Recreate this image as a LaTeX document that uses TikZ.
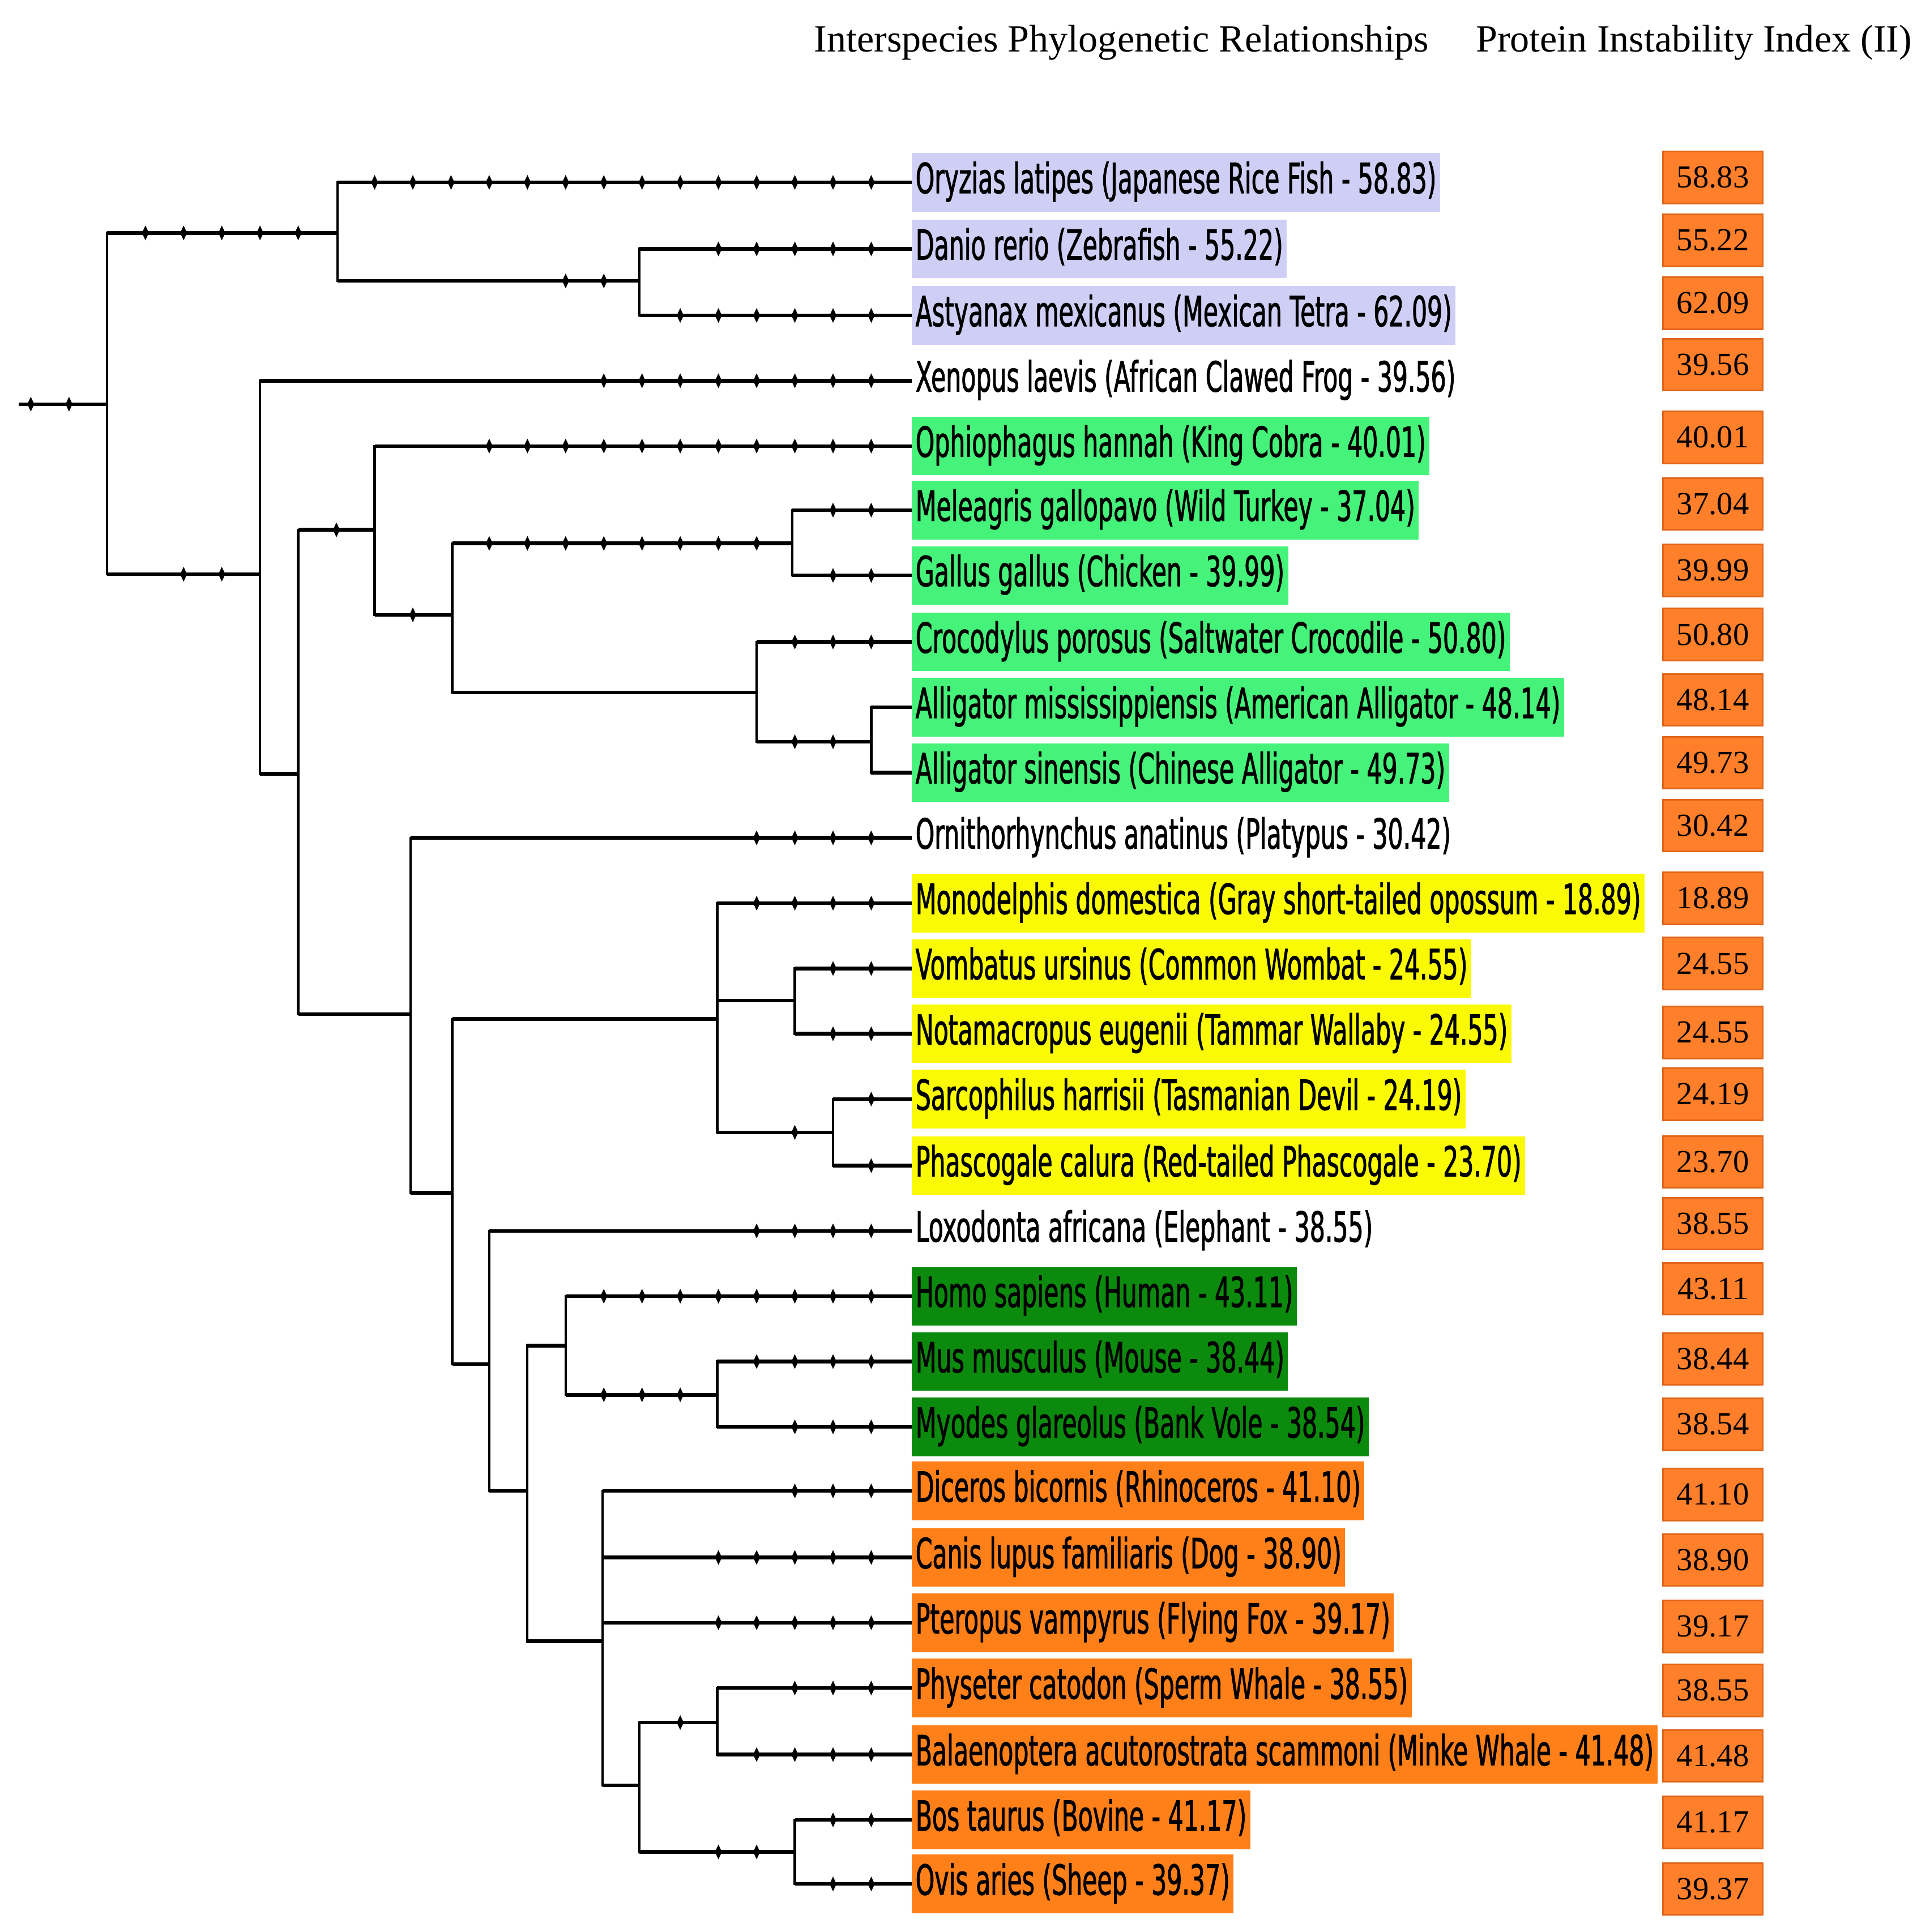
\documentclass[tikz,border=0pt]{standalone}
\usepackage{fontspec}
\setmainfont{Liberation Serif}
\newfontfamily\labfont[FakeStretch=0.58,FakeBold=1.2]{DejaVu Sans}
\newfontfamily\valfont{Liberation Serif}
\definecolor{lav}{HTML}{CFCFF6}
\definecolor{bgreen}{HTML}{45F27A}
\definecolor{yel}{HTML}{FAFA05}
\definecolor{dgreen}{HTML}{0C8A0E}
\definecolor{orn}{HTML}{FF8018}
\definecolor{valor}{HTML}{FF7F2A}
\definecolor{valdr}{HTML}{E0661A}
\newcommand\clade[3]{%
  \draw[vl] (#1 |- #2.west) -- (#1 |- #3.west);
  \draw[hl] (#1 |- #2.west) -- (#2.west);
  \draw[hl] (#1 |- #3.west) -- (#3.west);}
\newcommand\twig[2]{\draw[hl] (#1 |- #2.west) -- (#2.west);}
\newcommand\tks[2]{\foreach \tx in {#2} {\pic at (\tx,#1) {tk};}}
\begin{document}
\begin{tikzpicture}[x=0.01cm,y=-0.01cm,
  hl/.style={line width=0.85pt},
  vl/.style={line width=0.55pt,line cap=rect},
  pt/.style={inner sep=0pt,outer sep=0pt,minimum size=0pt},
  lab/.style={anchor=west,inner xsep=0.03cm,inner ysep=0pt,outer sep=0pt,
    text height=0.325cm,text depth=0.15cm,font=\labfont\fontsize{9.6}{10}\selectfont},
  val/.style={fill=valor,draw=valdr,line width=0.4pt,minimum width=0.81cm,
    minimum height=0.42cm,inner sep=0pt,font=\valfont\fontsize{7.4}{8}\selectfont},
  hdr/.style={anchor=base west,inner sep=0pt,font=\fontsize{8.9}{10}\selectfont},
  tk/.pic={\fill (-2.8,0) -- (0,-6) -- (2.8,0) -- (0,6) -- cycle;}
]
\path[use as bounding box,fill=white] (0,0) rectangle (1566,1568);

% headers
\node[hdr] (h1) at (660,42) {Interspecies Phylogenetic Relationships};
\node[hdr] (h2) at (1197,42) {Protein Instability Index (II)};

% leaves
\node[lab,fill=lav] (Ory) at (740,148) {Oryzias latipes (Japanese Rice Fish - 58.83)};
\node[lab,fill=lav] (Dan) at (740,202) {Danio rerio (Zebrafish - 55.22)};
\node[lab,fill=lav] (Ast) at (740,256) {Astyanax mexicanus (Mexican Tetra - 62.09)};
\node[lab] (Xen) at (740,309) {Xenopus laevis (African Clawed Frog - 39.56)};
\node[lab,fill=bgreen] (Oph) at (740,362) {Ophiophagus hannah (King Cobra - 40.01)};
\node[lab,fill=bgreen] (Mel) at (740,414) {Meleagris gallopavo (Wild Turkey - 37.04)};
\node[lab,fill=bgreen] (Gal) at (740,467) {Gallus gallus (Chicken - 39.99)};
\node[lab,fill=bgreen] (Cro) at (740,521) {Crocodylus porosus (Saltwater Crocodile - 50.80)};
\node[lab,fill=bgreen] (Alm) at (740,574) {Alligator mississippiensis (American Alligator - 48.14)};
\node[lab,fill=bgreen] (Als) at (740,627) {Alligator sinensis (Chinese Alligator - 49.73)};
\node[lab] (Orn) at (740,680) {Ornithorhynchus anatinus (Platypus - 30.42)};
\node[lab,fill=yel] (Mon) at (740,733) {Monodelphis domestica (Gray short-tailed opossum - 18.89)};
\node[lab,fill=yel] (Vom) at (740,786) {Vombatus ursinus (Common Wombat - 24.55)};
\node[lab,fill=yel] (Not) at (740,839) {Notamacropus eugenii (Tammar Wallaby - 24.55)};
\node[lab,fill=yel] (Sar) at (740,892) {Sarcophilus harrisii (Tasmanian Devil - 24.19)};
\node[lab,fill=yel] (Pha) at (740,946) {Phascogale calura (Red-tailed Phascogale - 23.70)};
\node[lab] (Lox) at (740,999) {Loxodonta africana (Elephant - 38.55)};
\node[lab,fill=dgreen] (Hom) at (740,1052) {Homo sapiens (Human - 43.11)};
\node[lab,fill=dgreen] (Mus) at (740,1105) {Mus musculus (Mouse - 38.44)};
\node[lab,fill=dgreen] (Myo) at (740,1158) {Myodes glareolus (Bank Vole - 38.54)};
\node[lab,fill=orn] (Dic) at (740,1210) {Diceros bicornis (Rhinoceros - 41.10)};
\node[lab,fill=orn] (Can) at (740,1264) {Canis lupus familiaris (Dog - 38.90)};
\node[lab,fill=orn] (Pte) at (740,1317) {Pteropus vampyrus (Flying Fox - 39.17)};
\node[lab,fill=orn] (Phy) at (740,1370) {Physeter catodon (Sperm Whale - 38.55)};
\node[lab,fill=orn] (Bal) at (740,1424) {Balaenoptera acutorostrata scammoni (Minke Whale - 41.48)};
\node[lab,fill=orn] (Bos) at (740,1477) {Bos taurus (Bovine - 41.17)};
\node[lab,fill=orn] (Ovi) at (740,1529) {Ovis aries (Sheep - 39.37)};

% internal nodes
\node[pt] (S0) at (15,328) {};
\node[pt] (R) at (87,328) {};
\node[pt] (F) at (274,189) {};
\node[pt] (DA) at (519,228) {};
\node[pt] (T) at (211,466) {};
\node[pt] (AM) at (242,628) {};
\node[pt] (SA) at (304,430) {};
\node[pt] (AR) at (367,499) {};
\node[pt] (BI) at (643,441) {};
\node[pt] (CR) at (614,562) {};
\node[pt] (AL) at (707,602) {};
\node[pt] (MA) at (333,823) {};
\node[pt] (TH) at (367,968) {};
\node[pt] (MR) at (582,827) {};
\node[pt] (VN) at (645,812) {};
\node[pt] (SP) at (676,919) {};
\node[pt] (EU) at (397,1107) {};
\node[pt] (BO) at (428,1210) {};
\node[pt] (GL) at (459,1092) {};
\node[pt] (RO) at (582,1132) {};
\node[pt] (LA) at (489,1332) {};
\node[pt] (CE) at (519,1449) {};
\node[pt] (WH) at (582,1398) {};
\node[pt] (BV) at (645,1503) {};

% branches
\draw[hl] (S0) -- (R);
\clade{R}{F}{T}
\clade{F}{Ory}{DA}
\clade{DA}{Dan}{Ast}
\clade{T}{Xen}{AM}
\clade{AM}{SA}{MA}
\clade{SA}{Oph}{AR}
\clade{AR}{BI}{CR}
\clade{BI}{Mel}{Gal}
\clade{CR}{Cro}{AL}
\clade{AL}{Alm}{Als}
\clade{MA}{Orn}{TH}
\clade{TH}{MR}{EU}
\clade{MR}{Mon}{SP}\twig{MR}{VN}
\clade{VN}{Vom}{Not}
\clade{SP}{Sar}{Pha}
\clade{EU}{Lox}{BO}
\clade{BO}{GL}{LA}
\clade{GL}{Hom}{RO}
\clade{RO}{Mus}{Myo}
\clade{LA}{Dic}{CE}\twig{LA}{Can}\twig{LA}{Pte}
\clade{CE}{WH}{BV}
\clade{WH}{Phy}{Bal}
\clade{BV}{Bos}{Ovi}

% ticks
\tks{328}{25,56}
\tks{189}{118,149,...,242}
\tks{148}{304,335,...,707}
\tks{228}{459,490}
\tks{202}{583,614,...,707}
\tks{256}{552,583,...,707}
\tks{466}{149,180}
\tks{309}{490,521,...,707}
\tks{430}{273}
\tks{362}{397,428,...,707}
\tks{499}{335}
\tks{441}{397,428,...,614}
\tks{414}{676,707}
\tks{467}{676,707}
\tks{521}{645,676,707}
\tks{602}{645,676}
\tks{680}{614,645,676,707}
\tks{733}{614,645,676,707}
\tks{786}{676,707}
\tks{839}{676,707}
\tks{919}{645}
\tks{892}{707}
\tks{946}{707}
\tks{999}{614,645,676,707}
\tks{1052}{490,521,...,707}
\tks{1132}{490,521,552}
\tks{1105}{614,645,676,707}
\tks{1158}{645,676,707}
\tks{1210}{645,676,707}
\tks{1264}{583,614,...,707}
\tks{1317}{583,614,...,707}
\tks{1398}{552}
\tks{1370}{645,676,707}
\tks{1424}{614,645,676,707}
\tks{1503}{583,614}
\tks{1477}{676,707}
\tks{1529}{676,707}

% instability index values
\node[val] (v1) at (1390,144) {58.83};
\node[val] (v2) at (1390,195) {55.22};
\node[val] (v3) at (1390,246) {62.09};
\node[val] (v4) at (1390,296) {39.56};
\node[val] (v5) at (1390,355) {40.01};
\node[val] (v6) at (1390,409) {37.04};
\node[val] (v7) at (1390,463) {39.99};
\node[val] (v8) at (1390,515) {50.80};
\node[val] (v9) at (1390,568) {48.14};
\node[val] (v10) at (1390,619) {49.73};
\node[val] (v11) at (1390,670) {30.42};
\node[val] (v12) at (1390,729) {18.89};
\node[val] (v13) at (1390,782) {24.55};
\node[val] (v14) at (1390,838) {24.55};
\node[val] (v15) at (1390,888) {24.19};
\node[val] (v16) at (1390,943) {23.70};
\node[val] (v17) at (1390,993) {38.55};
\node[val] (v18) at (1390,1046) {43.11};
\node[val] (v19) at (1390,1103) {38.44};
\node[val] (v20) at (1390,1156) {38.54};
\node[val] (v21) at (1390,1213) {41.10};
\node[val] (v22) at (1390,1266) {38.90};
\node[val] (v23) at (1390,1320) {39.17};
\node[val] (v24) at (1390,1372) {38.55};
\node[val] (v25) at (1390,1425) {41.48};
\node[val] (v26) at (1390,1479) {41.17};
\node[val] (v27) at (1390,1533) {39.37};
\end{tikzpicture}
\end{document}
